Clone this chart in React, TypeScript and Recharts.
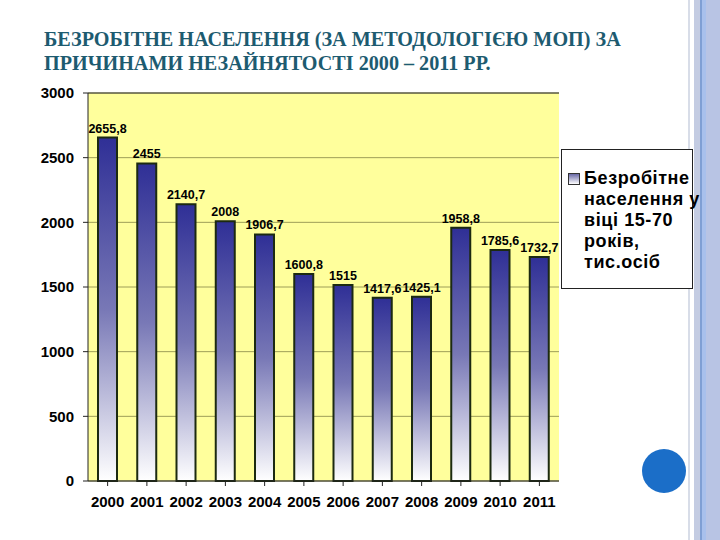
import {
  BarChart,
  Bar,
  XAxis,
  YAxis,
  CartesianGrid,
  LabelList,
  ReferenceLine,
} from "recharts";

const years = ["2000", "2001", "2002", "2003", "2004", "2005", "2006", "2007", "2008", "2009", "2010", "2011"];
const unemployed = [2655.8, 2455, 2140.7, 2008, 1906.7, 1600.8, 1515, 1417.6, 1425.1, 1958.8, 1785.6, 1732.7];
const yTicks = [0, 500, 1000, 1500, 2000, 2500, 3000];

const titleLines = [
  "БЕЗРОБІТНЕ НАСЕЛЕННЯ (ЗА МЕТОДОЛОГІЄЮ МОП) ЗА",
  "ПРИЧИНАМИ НЕЗАЙНЯТОСТІ 2000 – 2011 РР.",
];
const seriesName = "Безробітне населення у віці 15-70 років, тис.осіб";
const legendLines = ["Безробітне", "населення у", "віці 15-70", "років,", "тис.осіб"];

const data = years.map((year, i) => ({ year, value: unemployed[i] }));

const fmt = (v: number) => String(v).replace(".", ",");

const tickFont = {
  fontFamily: "Arial, 'Liberation Sans', sans-serif",
  fontWeight: 700,
  fontSize: 15,
  fill: "#000",
};

export default function App() {
  return (
    <div
      style={{
        position: "fixed",
        left: 0,
        top: 0,
        width: 720,
        height: 540,
        background: "#fff",
        overflow: "hidden",
      }}
    >
      {/* decorative slide stripes on the right */}
      <div style={{ position: "absolute", left: 688, top: 0, width: 2, height: 540, background: "#d8dde8" }} />
      <div style={{ position: "absolute", left: 694, top: 0, width: 6, height: 540, background: "#c4cce2" }} />
      <div style={{ position: "absolute", left: 700, top: 0, width: 2, height: 540, background: "#7f9fd4" }} />
      <div style={{ position: "absolute", left: 702, top: 0, width: 4, height: 540, background: "#a8c0ec" }} />
      <div style={{ position: "absolute", left: 706, top: 0, width: 14, height: 540, background: "#b8c4e4" }} />
      <div
        style={{
          position: "absolute",
          left: 642,
          top: 449,
          width: 44,
          height: 44,
          borderRadius: "50%",
          background: "#1b6ec8",
        }}
      />

      <div
        style={{
          position: "absolute",
          left: 44,
          top: 27,
          fontFamily: "'Liberation Serif', 'DejaVu Serif', serif",
          fontWeight: 700,
          fontSize: 21,
          lineHeight: "24px",
          color: "#1d5b70",
          whiteSpace: "nowrap",
          transform: "scaleX(0.96)",
          transformOrigin: "left top",
        }}
      >
        {titleLines.map((t) => (
          <div key={t}>{t}</div>
        ))}
      </div>

      <div style={{ position: "absolute", left: 0, top: 0 }}>
        <BarChart
          width={720}
          height={540}
          data={data}
          margin={{ top: 93, right: 161, bottom: 29, left: 38 }}
        >
          <defs>
            <linearGradient id="barFill" x1="0" y1="0" x2="0" y2="1">
              <stop offset="0%" stopColor="#2f2f96" />
              <stop offset="50%" stopColor="#7878b6" />
              <stop offset="100%" stopColor="#ffffff" />
            </linearGradient>
          </defs>
          <CartesianGrid
            vertical={false}
            fill="#ffff9c"
            stroke="#9e9e58"
            strokeWidth={1}
          />
          <XAxis
            dataKey="year"
            axisLine={{ stroke: "#222", strokeWidth: 1 }}
            tickLine={{ stroke: "#222" }}
            tickSize={5}
            tick={{ ...tickFont, dy: 8 }}
            height={30}
            interval={0}
          />
          <YAxis
            domain={[0, 3000]}
            ticks={yTicks}
            axisLine={{ stroke: "#222", strokeWidth: 1 }}
            tickLine={{ stroke: "#222" }}
            tickSize={5}
            tick={{ ...tickFont, dx: -7 }}
            width={50}
          />
          <YAxis
            yAxisId="frame"
            orientation="right"
            domain={[0, 3000]}
            tick={false}
            tickLine={false}
            axisLine={{ stroke: "#333", strokeWidth: 1 }}
            width={0}
          />
          <ReferenceLine y={3000} stroke="#333" strokeWidth={1} />
          <Bar
            dataKey="value"
            name={seriesName}
            fill="url(#barFill)"
            stroke="#1c2a10"
            strokeWidth={2}
            barSize={19}
            isAnimationActive={false}
          >
            <LabelList
              dataKey="value"
              position="top"
              offset={5}
              formatter={(v: any) => fmt(Number(v))}
              style={{
                fontFamily: "Arial, 'Liberation Sans', sans-serif",
                fontWeight: 700,
                fontSize: 12.5,
                fill: "#000",
              }}
            />
          </Bar>
        </BarChart>
      </div>

      {/* legend box */}
      <div
        style={{
          position: "absolute",
          left: 561,
          top: 149,
          width: 132,
          height: 140,
          background: "#fff",
          border: "1px solid #222",
          boxSizing: "border-box",
        }}
      >
        <div
          style={{
            position: "absolute",
            left: 6,
            top: 23,
            width: 10,
            height: 10,
            border: "1px solid #333",
            background: "linear-gradient(#6a6aa8, #ffffff)",
          }}
        />
        <div
          style={{
            position: "absolute",
            left: 22,
            top: 18,
            fontFamily: "Arial, 'Liberation Sans', sans-serif",
            fontWeight: 700,
            fontSize: 18,
            letterSpacing: 0.6,
            lineHeight: "21px",
            color: "#000",
            whiteSpace: "nowrap",
          }}
        >
          {legendLines.map((t) => (
            <div key={t}>{t}</div>
          ))}
        </div>
      </div>
    </div>
  );
}
